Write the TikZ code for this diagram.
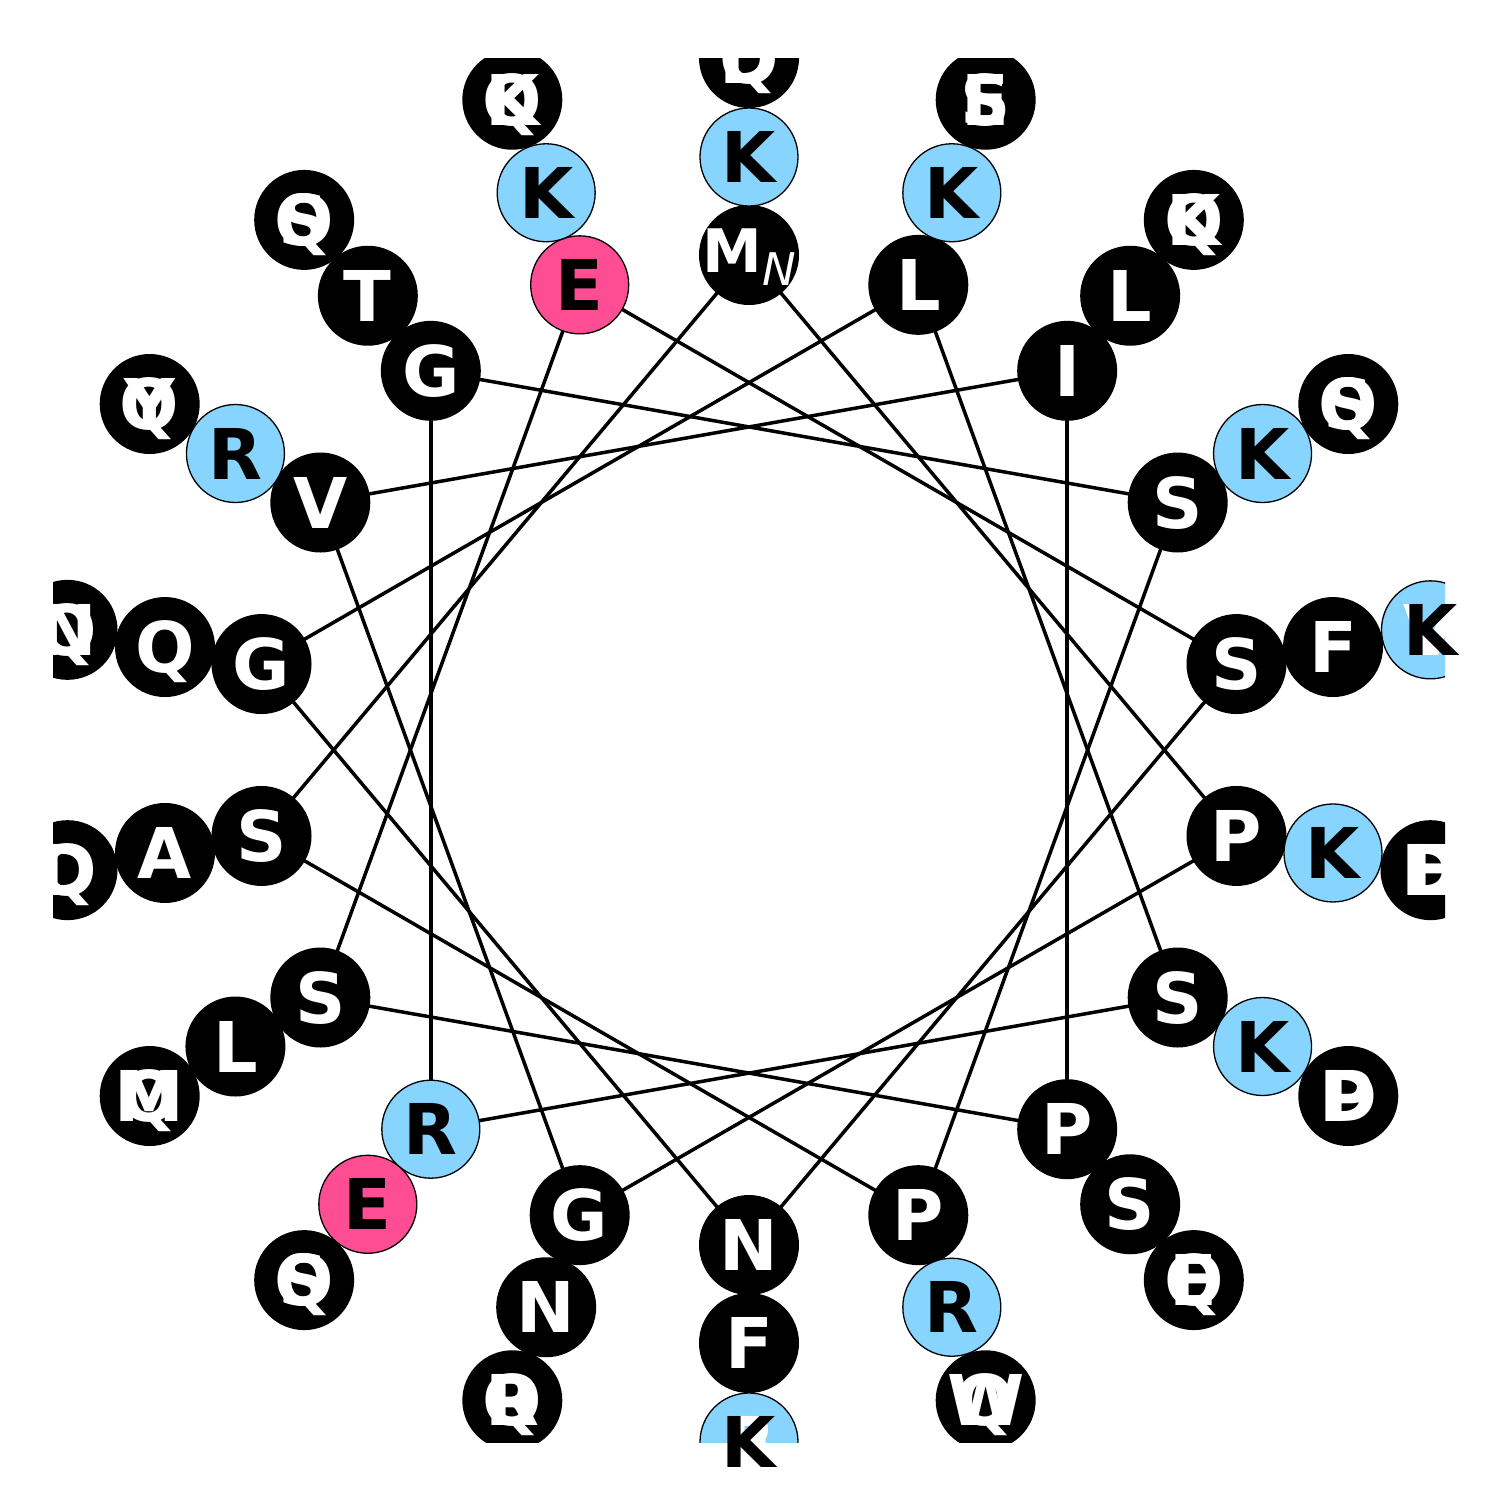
\documentclass[tikz,border=0pt]{standalone}
\usepackage{fontspec}
\setmainfont{DejaVu Sans}
\definecolor{kblue}{RGB}{135,212,255}
\definecolor{epink}{RGB}{255,77,148}
\tikzset{
  helix/.style={line width=3.5pt, black},
  bcirc/.style={circle, fill=black, minimum size=100pt, inner sep=0pt},
  kcirc/.style={circle, fill=kblue, draw=black, line width=1.3pt, minimum size=98pt, inner sep=0pt},
  ecirc/.style={circle, fill=epink, draw=black, line width=1.3pt, minimum size=98pt, inner sep=0pt},
  restxt/.style={inner sep=0pt, text height=51pt, text depth=0pt, font=\fontsize{70}{70}\selectfont\bfseries},
  btxt/.style={restxt, text=white},
  ktxt/.style={restxt, text=black},
  etxt/.style={restxt, text=black},
}
\begin{document}
\begin{tikzpicture}[x=1pt,y=-1pt]
\useasboundingbox (0,0) rectangle (1500,1500);
% inner two rings: index/letter/colour
\foreach \l/\c [count=\i from 0] in {M/b,P/b,G/b,V/b,I/b,P/b,S/b,E/e,S/b,N/b,G/b,L/b,S/b,R/k,G/b,S/b,P/b,S/b,
  K/k,K/k,N/b,R/k,L/b,S/b,L/b,K/k,F/b,F/b,Q/b,K/k,K/k,E/e,T/b,K/k,R/k,A/b} {
  \pgfmathsetmacro\a{mod(100*\i,360)}
  \pgfmathsetmacro\r{\i<18 ? 495 : 593}
  \coordinate (p\i) at ({749+\r*sin(\a)},{750-\r*cos(\a)});
}
% outer ring positions
\foreach \k in {0,...,17} {
  \coordinate (o\k) at ({749+692*sin(20*\k)},{750-692*cos(20*\k)});
}
% helix connectors
\foreach \i in {0,...,16} {
  \pgfmathtruncatemacro\j{\i+1}
  \draw[helix] (p\i) -- (p\j);
}
\draw[helix] (p17) -- (p0);
% circles
\foreach \l/\c [count=\i from 0] in {M/b,P/b,G/b,V/b,I/b,P/b,S/b,E/e,S/b,N/b,G/b,L/b,S/b,R/k,G/b,S/b,P/b,S/b,
  K/k,K/k,N/b,R/k,L/b,S/b,L/b,K/k,F/b,F/b,Q/b,K/k,K/k,E/e,T/b,K/k,R/k,A/b} {
  \node[\c circ] (c\i) at (p\i) {};
}
\begin{scope}
\clip (53,58) rectangle (1445,1442);
\foreach \k/\c in {0/b,1/b,2/b,3/b,4/k,5/b,6/b,7/b,8/b,9/k,10/b,11/b,12/b,13/b,14/b,15/b,16/b,17/b} {
  \node[\c circ] (oc\k) at (o\k) {};
}
\end{scope}
% residue letters (first residue carries the N-terminus mark)
\foreach \l/\c [count=\i from 1] in {P/b,G/b,V/b,I/b,P/b,S/b,E/e,S/b,N/b,G/b,L/b,S/b,R/k,G/b,S/b,P/b,S/b,
  K/k,K/k,N/b,R/k,L/b,S/b,L/b,K/k,F/b,F/b,Q/b,K/k,K/k,E/e,T/b,K/k,R/k,A/b} {
  \node[\c txt] (t\i) at (p\i) {\l};
}
\node[btxt, text height=44pt, text depth=10pt, font=\fontsize{60}{60}\selectfont\bfseries] (t0) at (p0) {M\raisebox{-13pt}{\fontsize{45}{45}\selectfont\mdseries\itshape N}};
% outer ring: stacked letters
\foreach \k/\la/\lb in {0/D/Q,1/E/S,2/Q/K,3/Q/S,4/V/V,5/D/E,6/D/P,7/Q/E,8/W/Q,9/R/E,10/Q/P,11/Q/S,12/M/Q,13/D/Q,14/N/Q,15/Y/Q,16/Q/S,17/Q/K} {
  \node[btxt] (ta\k) at (o\k) {\la};
  \node[btxt] (tb\k) at (o\k) {\lb};
}
\node[btxt] (tc10) at (o10) {R};
\node[ktxt] (tk4) at (o4) {K};
\node[ktxt] (tk9) at (o9) {K};
\end{tikzpicture}
\end{document}
